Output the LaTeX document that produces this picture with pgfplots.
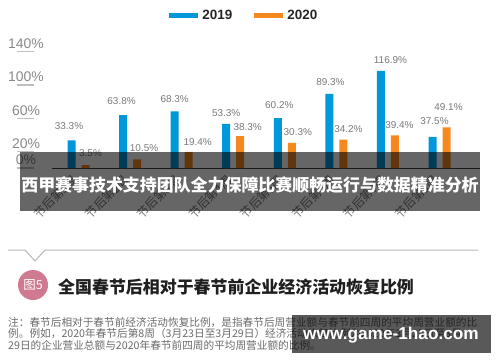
\documentclass[border=0pt]{standalone}
\usepackage{pgfplots}
\pgfplotsset{compat=1.18}
\usepackage{pgfplotstable}
\usepackage{fontspec}
\setmainfont{Liberation Sans}
\newfontfamily\cjk{Noto Sans CJK SC}
\definecolor{c19}{HTML}{0098DA}
\definecolor{c20}{HTML}{F5891F}
\definecolor{lbl}{HTML}{7A7A7A}
\definecolor{tk}{HTML}{8A8A8A}
\definecolor{pinkc}{HTML}{D07A92}
\pgfplotstableread{
x y dx dy
0 33.3 -2.5 14
1 63.8 -1.5 14
2 68.3 0 12
3 53.3 0 11
4 60.2 1.5 13
5 89.3 1 12
6 116.9 9.5 11
7 37.5 2 16
}\dataA
\pgfplotstableread{
x y dx dy
0 3.5 5 12
1 10.5 7 11
2 19.4 9 10
3 38.3 7.5 9
4 30.3 6 11
5 34.2 5 11
6 39.4 4.5 10
7 49.1 2 20
}\dataB
\begin{document}
\begin{tikzpicture}[x=1bp,y=1bp]
\useasboundingbox (0,0) rectangle (500,-362);
\fill[white] (0,0) rectangle (500,-362);
\begin{axis}[
  at={(52bp,-168bp)}, anchor=south west,
  scale only axis, width=428bp, height=124.5bp,
  xmin=-0.514, xmax=7.785, ymin=0, ymax=150,
  ybar=6bp, bar width=8bp,
  axis lines*=left,
  y axis line style={draw=none},
  x axis line style={draw=black!75, line width=0.8bp},
  tick align=outside,
  major tick length=17bp,
  ytick={0,20,60,100,140},
  ytick style={draw=none},
  yticklabel={\pgfmathprintnumber{\tick}\%},
  yticklabel style={font=\fontsize{14}{14}\selectfont, text=tk, anchor=center, xshift=-9bp, yshift=8bp,
    append after command={(\tikzlastnode.center) ++(-8.5bp,-8bp) edge[draw=gray!50, line width=1.2bp] ++(17bp,0bp)}},
  /pgf/number format/assume math mode=true,
  xtick={0,...,7},
  xtick style={draw=none},
  xticklabels={节后第1周,节后第2周,节后第3周,节后第4周,节后第5周,节后第6周,节后第7周,节后第8周},
  xticklabel style={font=\cjk\fontsize{12}{12}\selectfont, text=lbl, rotate=45, anchor=north east, yshift=17bp, xshift=6bp},
  nodes near coords={\pgfmathprintnumber[fixed,precision=1,fixed zerofill]{\pgfplotspointmeta}\%},
  visualization depends on={\thisrow{dx}\as\dx},
  visualization depends on={\thisrow{dy}\as\dy},
  nodes near coords style={font=\fontsize{10}{10}\selectfont, text=lbl, anchor=center, xshift=\dx bp, yshift=\dy bp},
  legend columns=2,
  legend style={at={(0.446,1.221)}, anchor=center, draw=none, fill=none,
    font=\bfseries\fontsize{13.5}{13.5}\selectfont, text=black!85,
    /tikz/every even column/.append style={column sep=17bp}},
  clip=false,
]
\addplot[fill=c19, draw=none,
  legend image code/.code={\draw[line width=5bp, c19] (0bp,0bp) -- (29bp,0bp);}]
  table[x=x,y=y] {\dataA};
\addlegendentry{2019}
\addplot[fill=c20, draw=none,
  legend image code/.code={\draw[line width=5bp, c20] (0bp,0bp) -- (29bp,0bp);}]
  table[x=x,y=y] {\dataB};
\addlegendentry{2020}
\end{axis}
% banner
\fill[black, fill opacity=0.6] (20,-152) rectangle (480,-211);
\node[text=white, font=\cjk\bfseries\fontsize{17}{17}\selectfont] at (250,-185) {西甲赛事技术支持团队全力保障比赛顺畅运行与数据精准分析};
% divider
\draw[gray!55, line width=1bp] (8,-250) -- (25,-250) -- (35,-261) -- (45,-250) -- (478,-250);
% figure badge
\fill[pinkc] (33,-285) circle (15);
\node[text=white, font=\cjk\fontsize{12.5}{12.5}\selectfont] at (33,-285) {图5};
\node[anchor=west, text=black!88, font=\cjk\bfseries\fontsize{17}{17}\selectfont, inner sep=0pt] at (58,-287) {全国春节后相对于春节前企业经济活动恢复比例};
% note
\node[anchor=north west, align=left, inner sep=0pt, text=black!58, font=\cjk\fontsize{10.7}{11.6}\selectfont] at (8,-317) {注：春节后相对于春节前经济活动恢复比例，是指春节后周营业额与春节前四周的平均周营业额的比\\例。例如，2020年春节后第8周（3月23日至3月29日）经济活动恢复比例为2020年3月23日至3月\\29日的企业营业总额与2020年春节前四周的平均周营业额的比例。};
% watermark
\fill[black, fill opacity=0.65] (292,-315) rectangle (491,-353);
\node[text=white, font=\bfseries\fontsize{17.3}{17.3}\selectfont] at (391,-335) {www.game-1hao.com};
\end{tikzpicture}
\end{document}
